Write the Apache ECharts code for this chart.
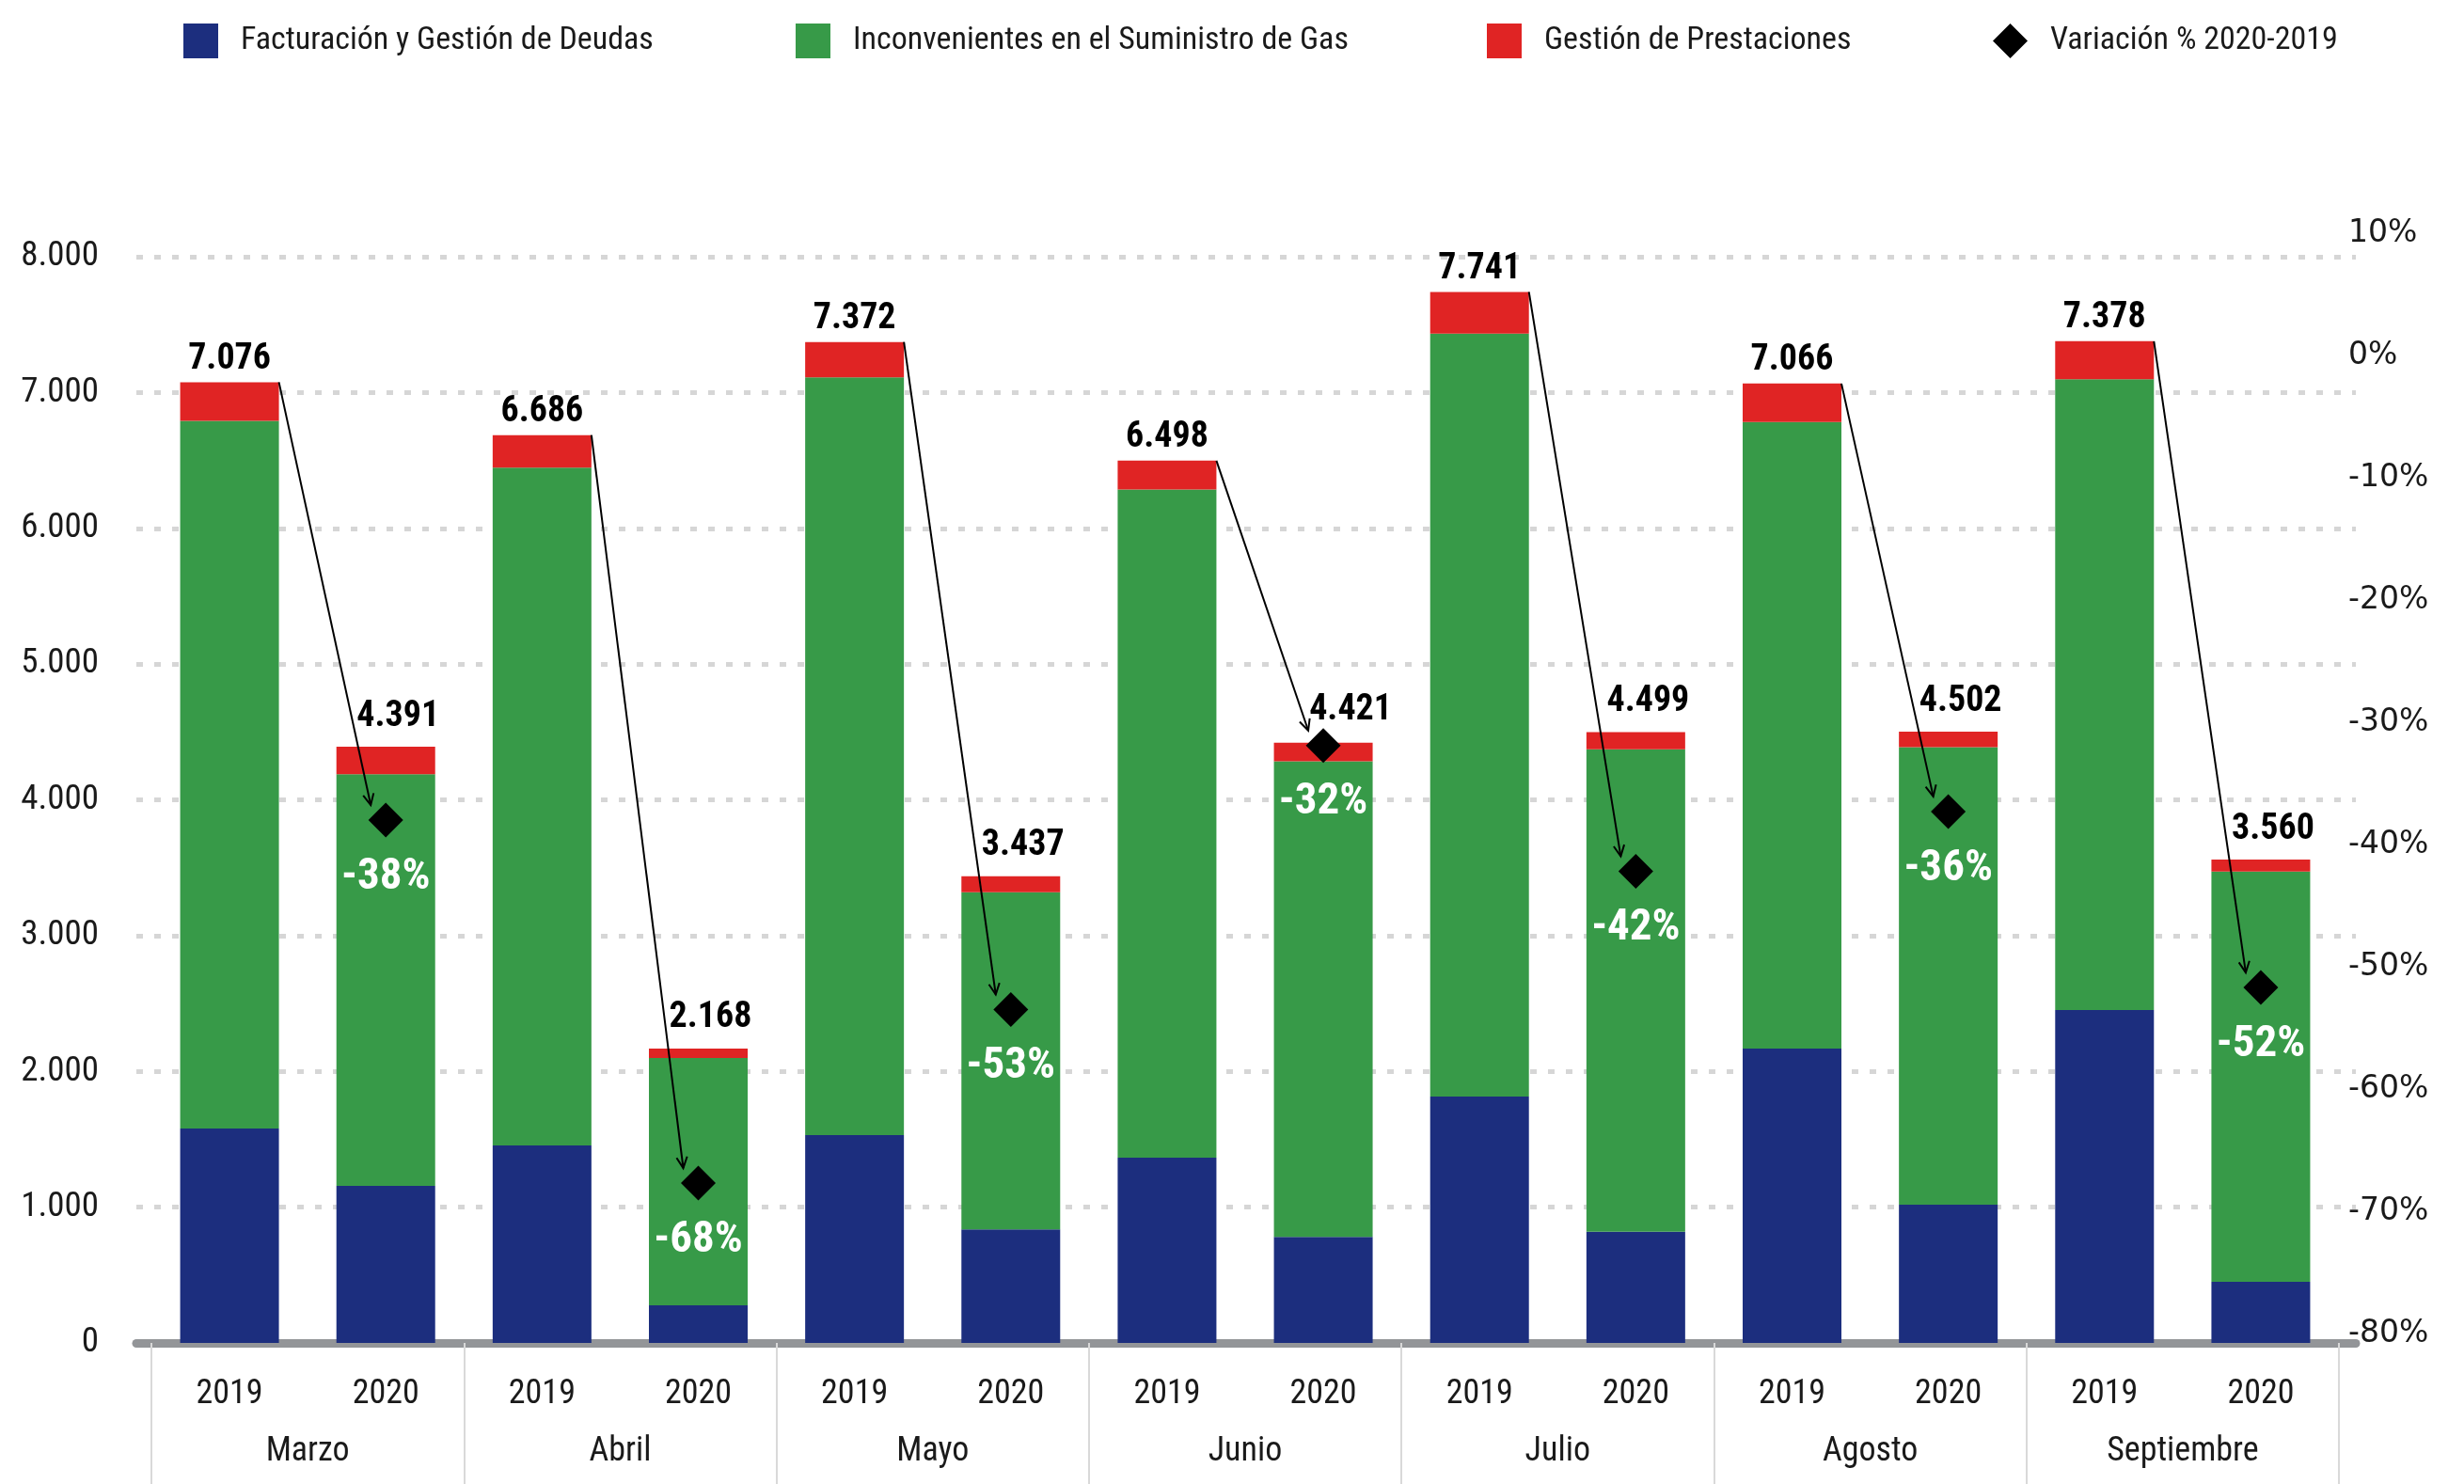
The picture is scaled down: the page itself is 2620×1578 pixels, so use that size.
<!DOCTYPE html>
<html>
<head>
<meta charset="utf-8">
<script src="https://cdn.jsdelivr.net/npm/echarts@6/dist/echarts.min.js"></script>
<style>
html,body{margin:0;padding:0;background:#fff;}
#c{width:2620px;height:1578px;}
</style>
</head>
<body>
<div id="c"></div>
<script>
// ---- data ----
const years = ['2019','2020','2019','2020','2019','2020','2019','2020','2019','2020','2019','2020','2019','2020'];
const months = ['Marzo','Abril','Mayo','Junio','Julio','Agosto','Septiembre'];
const facturacion    = [1579,1156,1454,277,1530,836,1364,781,1815,819,2168,1018,2452,450];
const inconvenientes = [5213,3033,4992,1822,5581,2484,4922,3503,5619,3553,4615,3370,4645,3021];
const prestaciones   = [284,202,240,69,261,117,212,137,307,127,283,114,281,89];
const totals         = [7076,4391,6686,2168,7372,3437,6498,4421,7741,4499,7066,4502,7378,3560];
const variation       = [-38.0,-67.7,-53.5,-31.9,-42.2,-37.3,-51.7];
const variationLabels = ['-38%','-68%','-53%','-32%','-42%','-36%','-52%'];
const seriesNames = ['Facturación y Gestión de Deudas','Inconvenientes en el Suministro de Gas','Gestión de Prestaciones','Variación % 2020-2019'];

// ---- style ----
const FONT = "'Roboto Condensed','Liberation Sans Narrow','DejaVu Sans Condensed','Arial Narrow',Roboto,sans-serif";
const C_BLUE = '#1c2e7e', C_GREEN = '#379a48', C_RED = '#e02424';
const BAR_W = 105;
const fmt = v => String(v).replace(/\B(?=(\d{3})+(?!\d))/g, '.');

const chart = echarts.init(document.getElementById('c'), null, {renderer:'canvas'});

function legendItem(name, left, icon){
  return {
    left: left, top: 20, itemWidth: 37, itemHeight: 37, icon: icon,
    selectedMode: false, data: [name],
    itemStyle: {opacity: 1},
    textStyle: {fontFamily: FONT, fontSize: 34, color: '#1a1a1a', padding: [0,0,0,19]}
  };
}

// per-item label offsets for totals (2020 labels nudged right/up)
const totalLabelOffset = i => (i % 2 === 0) ? [0, 0] : (i === 7 ? [29, -10] : [13, -8]);

const option = {
  animation: false,
  backgroundColor: '#ffffff',
  legend: [
    legendItem(seriesNames[0], 190, 'rect'),
    legendItem(seriesNames[1], 841, 'rect'),
    legendItem(seriesNames[2], 1576, 'rect'),
    legendItem(seriesNames[3], 2114, 'diamond')
  ],
  grid: [
    {left: 161, right: 133, top: 273, bottom: 150},
    {left: 161, right: 133, top: 248, bottom: 160},
    {left: 145, right: 115, top: 273, bottom: 150}
  ],
  xAxis: [
    {type: 'category', gridIndex: 0, data: years,
     axisLine: {show: false}, axisTick: {show: false},
     axisLabel: {interval: 0, fontFamily: FONT, fontSize: 36, color: '#1a1a1a', margin: 37}},
    {type: 'category', gridIndex: 0, data: months, position: 'bottom',
     axisLine: {show: false},
     axisTick: {show: true, interval: 0, length: 150, lineStyle: {color: '#d9d9d9', width: 2}},
     axisLabel: {interval: 0, fontFamily: FONT, fontSize: 36, color: '#1a1a1a', margin: 98}},
    {type: 'category', gridIndex: 1, data: years, show: false},
    {type: 'value', gridIndex: 2, min: 0, max: 1,
     axisLine: {show: true, lineStyle: {color: '#939598', width: 9}},
     axisTick: {show: false}, axisLabel: {show: false}, splitLine: {show: false}}
  ],
  yAxis: [
    {type: 'value', gridIndex: 0, min: 0, max: 8000, interval: 1000,
     axisLine: {show: false}, axisTick: {show: false}, splitLine: {show: false},
     axisLabel: {fontFamily: FONT, fontSize: 37, color: '#1a1a1a', margin: 56, formatter: v => fmt(v)}},
    {type: 'value', gridIndex: 1, position: 'right', min: -80, max: 10, interval: 10,
     axisLine: {show: false}, axisTick: {show: false}, splitLine: {show: false},
     axisLabel: {fontFamily: "'DejaVu Sans',Verdana,sans-serif", fontSize: 33, color: '#1a1a1a', margin: 10, formatter: '{value}%'}},
    {type: 'value', gridIndex: 2, min: 0, max: 8000, interval: 1000,
     axisLine: {show: false}, axisTick: {show: false}, axisLabel: {show: false},
     splitLine: {show: true, lineStyle: {color: '#d6d6d6', width: 5, type: [7, 12]}}}
  ],
  series: [
    {name: seriesNames[0], type: 'bar', stack: 'total', xAxisIndex: 0, yAxisIndex: 0,
     barWidth: BAR_W, itemStyle: {color: C_BLUE}, data: facturacion},
    {name: seriesNames[1], type: 'bar', stack: 'total', xAxisIndex: 0, yAxisIndex: 0,
     barWidth: BAR_W, itemStyle: {color: C_GREEN}, data: inconvenientes},
    {name: seriesNames[2], type: 'bar', stack: 'total', xAxisIndex: 0, yAxisIndex: 0,
     barWidth: BAR_W, itemStyle: {color: C_RED},
     data: prestaciones.map((v, i) => ({value: v, label: {offset: totalLabelOffset(i)}})),
     label: {show: true, position: 'top', distance: 5,
             formatter: p => fmt(totals[p.dataIndex]),
             fontFamily: FONT, fontSize: 38, fontWeight: 'bold', color: '#000'}},
    {name: seriesNames[3], type: 'scatter', xAxisIndex: 2, yAxisIndex: 1,
     symbol: 'diamond', symbolSize: 37, itemStyle: {color: '#000', opacity: 1}, z: 10,
     data: variation.map((v, m) => [2 * m + 1, v]),
     label: {show: true, position: 'inside', offset: [0, 61],
             formatter: p => variationLabels[p.dataIndex],
             fontFamily: FONT, fontSize: 47, fontWeight: 'bold', color: '#fff'}}
  ]
};
chart.setOption(option);

// ---- arrows from top of 2019 bar to the variation diamond ----
const g = [];
for (let m = 0; m < months.length; m++) {
  const s = chart.convertToPixel({xAxisIndex: 0, yAxisIndex: 0}, [2 * m, totals[2 * m]]);
  const e = chart.convertToPixel({xAxisIndex: 2, yAxisIndex: 1}, [2 * m + 1, variation[m]]);
  const x1 = s[0] + BAR_W / 2, y1 = s[1];
  const x2 = e[0] - 16, y2 = e[1] - 16;
  const ang = Math.atan2(y2 - y1, x2 - x1);
  const L = 13, sp = 0.45;
  const pts = [
    [x2 - L * Math.cos(ang - sp), y2 - L * Math.sin(ang - sp)],
    [x2, y2],
    [x2 - L * Math.cos(ang + sp), y2 - L * Math.sin(ang + sp)]
  ];
  g.push({type: 'line', z: 20, shape: {x1: x1, y1: y1, x2: x2, y2: y2}, style: {stroke: '#000', lineWidth: 2}});
  g.push({type: 'polyline', z: 20, shape: {points: pts}, style: {stroke: '#000', lineWidth: 2, fill: null}});
}
chart.setOption({graphic: g});
</script>
</body>
</html>
